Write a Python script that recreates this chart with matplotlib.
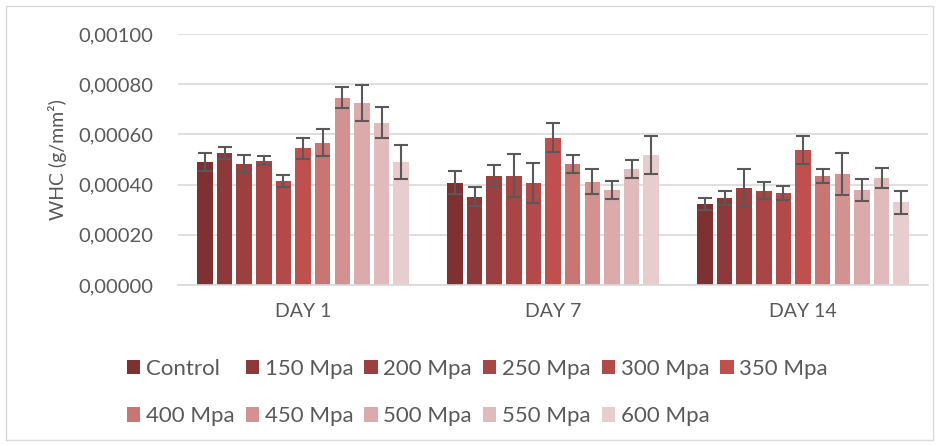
import numpy as np
import matplotlib
matplotlib.use('Agg')
from matplotlib import pyplot as plt
from matplotlib.patches import Rectangle
from matplotlib.ticker import FuncFormatter

plt.rcParams['font.family'] = ['Lato', 'DejaVu Sans']

days = ['DAY 1', 'DAY 7', 'DAY 14']
labels = ['Control', '150 Mpa', '200 Mpa', '250 Mpa', '300 Mpa', '350 Mpa',
          '400 Mpa', '450 Mpa', '500 Mpa', '550 Mpa', '600 Mpa']
colors = ['#7F3131', '#8E3939', '#9C3F3F', '#A84545', '#B34A4A', '#C0504D',
          '#C87573', '#D39190', '#DBAAAA', '#E1BBBB', '#E8CDCE']

# mean values per treatment: [DAY 1, DAY 7, DAY 14]
means = [
    [0.000491, 0.000408, 0.000323],
    [0.000526, 0.000352, 0.000348],
    [0.000484, 0.000436, 0.000387],
    [0.000495, 0.000435, 0.000375],
    [0.000415, 0.000407, 0.000367],
    [0.000544, 0.000587, 0.000538],
    [0.000567, 0.000482, 0.000435],
    [0.000746, 0.000412, 0.000443],
    [0.000726, 0.000379, 0.000379],
    [0.000647, 0.000462, 0.000426],
    [0.000491, 0.000518, 0.000330],
]
errs = [
    [0.000036, 0.000045, 0.000025],
    [0.000025, 0.000039, 0.000028],
    [0.000034, 0.000041, 0.000077],
    [0.000017, 0.000085, 0.000034],
    [0.000023, 0.000081, 0.000029],
    [0.000043, 0.000058, 0.000055],
    [0.000053, 0.000034, 0.000027],
    [0.000041, 0.000051, 0.000084],
    [0.000071, 0.000036, 0.000043],
    [0.000061, 0.000037, 0.000041],
    [0.000067, 0.000074, 0.000046],
]

txt = '#595959'
fig = plt.figure(figsize=(9.4, 4.46), dpi=100)
ax = fig.add_axes([178/940, 1-285/446, 750/940, 251/446])

x = np.arange(len(days))
pitch = 0.0785
bars = []
for i, lab in enumerate(labels):
    off = (i - 5) * pitch
    b = ax.bar(x + off, means[i], width=0.062, color=colors[i], label=lab, zorder=2)
    ax.errorbar(x + off, means[i], yerr=errs[i], fmt='none', ecolor=txt,
                elinewidth=1.5, capsize=5, capthick=1.5, zorder=3)
    bars.append(b)

ax.set_xlim(-0.5, 2.5)
ax.set_ylim(0, 0.001)
ax.set_yticks(np.arange(0, 0.00101, 0.0002))
ax.yaxis.set_major_formatter(FuncFormatter(lambda v, p: ('%.5f' % v).replace('.', ',')))
ax.set_xticks(x)
ax.set_xticklabels(days)
ax.grid(axis='y', color='#D9D9D9', linewidth=1.2, zorder=0)
ax.set_axisbelow(True)
for s in ['top', 'right', 'left']:
    ax.spines[s].set_visible(False)
ax.spines['bottom'].set_color('#D9D9D9')
ax.spines['bottom'].set_linewidth(1.2)
ax.tick_params(length=0, labelcolor=txt)
ax.tick_params(axis='y', pad=18, labelsize=14.5)
ax.tick_params(axis='x', pad=13, labelsize=14)
ax.set_ylabel('WHC (g/mm²)', fontsize=14, color=txt, labelpad=8)

# row-wise legend order for 6 columns
order = [0, 6, 1, 7, 2, 8, 3, 9, 4, 10, 5]
fig.legend([bars[k] for k in order], [labels[k] for k in order], ncol=6,
           loc='center', bbox_to_anchor=(0.508, 0.12), frameon=False,
           fontsize=16, labelcolor=txt, handlelength=0.6, handleheight=0.6,
           handletextpad=0.25, columnspacing=0.5, labelspacing=1.25)

fig.patches.append(Rectangle((6/940, 6/446), 927/940, 434/446, transform=fig.transFigure,
                             fill=False, edgecolor='#D9D9D9', linewidth=1))

plt.savefig('out.png', dpi=100)
